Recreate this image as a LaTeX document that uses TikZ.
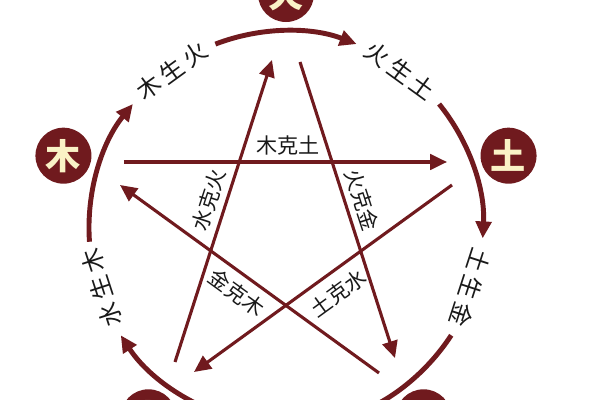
\documentclass[tikz,border=0pt]{standalone}
\usepackage{fontspec}
\newfontfamily\cjk{Noto Sans CJK SC}
\usetikzlibrary{arrows.meta}

\definecolor{wxred}{HTML}{701A1E}
\definecolor{wxcream}{HTML}{FAF2C6}

\tikzset{
    element/.style={circle, fill=wxred, minimum size=1.4cm, inner sep=0pt,
        text=wxcream, font=\cjk\bfseries\fontsize{25}{25}\selectfont},
    shengarrow/.style={color=wxred, line width=3.5pt, -{Triangle[length=12pt,width=11pt]}},
    kearrow/.style={color=wxred, line width=2.2pt, -{Triangle[length=12pt,width=11pt]}},
    kelabel/.style={inner sep=1pt, text=black!90, font=\cjk\fontsize{15}{15}\selectfont},
    shenglabel/.style={inner sep=1pt, text=black!90, font=\cjk\fontsize{17}{17}\selectfont},
}

\begin{document}
\begin{tikzpicture}[x=0.025cm, y=0.025cm]

    % Frame
    \useasboundingbox (-286,-172) rectangle (314,228);
    \clip (-286,-172) rectangle (314,228);
    \fill[white] (-286,-172) rectangle (314,228);

    %% Five elements
    \node[element] (fire)  at (90:234)  {火};
    \node[element] (earth) at (18:234)  {土};
    \node[element] (wood)  at (162:234) {木};
    \node[element] (water) at (234:234) {水};
    \node[element] (metal) at (306:234) {金};

    %% Generating cycle
    % Arcs past each element
    \draw[shengarrow] (184:197) arc[start angle=184, end angle=141, radius=197];
    \draw[shengarrow] (111:197) arc[start angle=111, end angle=69, radius=197];
    \draw[shengarrow] (39:197)  arc[start angle=39, end angle=-3, radius=197];
    \draw[shengarrow] (327:197) arc[start angle=327, end angle=285, radius=197];
    \draw[shengarrow] (255:197) arc[start angle=255, end angle=213, radius=197];

    % Labels on the circle
    \node[shenglabel, rotate=36]   (woodfire)   at (126:194) {木\hspace{3pt}生\hspace{3pt}火};
    \node[shenglabel, rotate=-36]  (fireearth)  at (54:194)  {火\hspace{3pt}生\hspace{3pt}土};
    \node[shenglabel, rotate=-108] (earthmetal) at (-18:194) {土\hspace{3pt}生\hspace{3pt}金};
    \node[shenglabel, rotate=108]  (waterwood)  at (198:194) {水\hspace{3pt}生\hspace{3pt}木};

    %% Restraining star
    \coordinate (kwood1)  at (-162,66);
    \coordinate (kearth1) at (161,66);
    \coordinate (kwater1) at (-111,-134);
    \coordinate (kfire1)  at (-14,168);
    \coordinate (kfire2)  at (14,166);
    \coordinate (kmetal1) at (109,-130);
    \coordinate (kearth2) at (166,43);
    \coordinate (kwater2) at (-92,-144);
    \coordinate (kmetal2) at (93,-145);
    \coordinate (kwood2)  at (-166,43);

    % Wood restrains earth
    \draw[kearrow] (kwood1) -- (kearth1);
    % Water restrains fire
    \draw[kearrow] (kwater1) -- (kfire1);
    % Fire restrains metal
    \draw[kearrow] (kfire2) -- (kmetal1);
    % Earth restrains water
    \draw[kearrow] (kearth2) -- (kwater2);
    % Metal restrains wood
    \draw[kearrow] (kmetal2) -- (kwood2);

    % Labels on the star
    \node[kelabel] (mkt) at (2,83) {木克土};
    \node[kelabel, rotate=72]  (skh) at (-77,28) {水克火};
    \node[kelabel, rotate=-72] (hkj) at (76,28)  {火克金};
    \node[kelabel, rotate=-36] (jkm) at (-49,-65) {金克木};
    \node[kelabel, rotate=36]  (tks) at (52,-65)  {土克水};

\end{tikzpicture}
\end{document}
